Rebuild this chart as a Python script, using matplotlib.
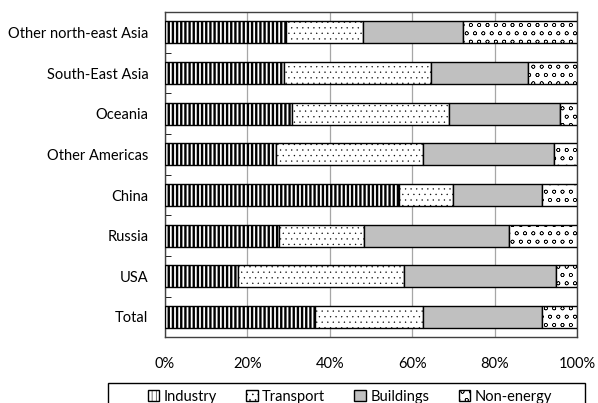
import numpy as np
import matplotlib
matplotlib.use('Agg')
from matplotlib import pyplot as plt
from matplotlib.patches import Rectangle

plt.rcParams['font.family'] = ['Lato', 'DejaVu Sans']

regions = ['Total', 'USA', 'Russia', 'China', 'Other Americas',
           'Oceania', 'South-East Asia', 'Other north-east Asia']

# shares in %
industry = [36.5, 17.6, 27.6, 56.9, 26.9, 30.7, 28.9, 29.4]
transport = [26.1, 40.5, 20.7, 13.1, 35.7, 38.1, 35.6, 18.6]
buildings = [28.8, 36.8, 35.1, 21.4, 31.9, 27.1, 23.6, 24.2]
non_energy = [8.6, 5.1, 16.6, 8.6, 5.5, 4.1, 11.9, 27.8]

# name, values, fill, hatch, hatch line width
series = [
    ('Industry', industry, 'white', '||||', 1.7),
    ('Transport', transport, 'white', '...', 0.2),
    ('Buildings', buildings, '#c0c0c0', '', 1.0),
    ('Non-energy', non_energy, 'white', 'oo', 0.4),
]

fig = plt.figure(figsize=(5.98, 4.03), dpi=100)
ax = fig.add_axes([0.276, 0.163, 0.689, 0.807])

y = np.arange(len(regions))
left = np.zeros(len(regions))
for name, vals, color, hatch, hlw in series:
    vals = np.array(vals)
    plt.rcParams['hatch.linewidth'] = hlw
    bars = ax.barh(y, vals, left=left, height=0.54, color=color, hatch=hatch,
                   edgecolor='black', linewidth=1.0, label=name, zorder=3)
    for b in bars:
        if hasattr(b, 'set_hatch_linewidth'):
            b.set_hatch_linewidth(hlw)
    left += vals

ax.set_xlim(0, 100)
ax.set_ylim(-0.5, len(regions) - 0.5)
ax.set_xticks([0, 20, 40, 60, 80, 100])
ax.set_xticklabels(['0%', '20%', '40%', '60%', '80%', '100%'])
ax.set_yticks(y)
ax.set_yticklabels(regions)
ax.set_yticks(np.arange(-0.5, len(regions), 1), minor=True)
ax.tick_params(axis='y', which='major', length=0, pad=12)
ax.tick_params(axis='y', which='minor', length=4, direction='in')
ax.tick_params(axis='x', length=0, pad=14)
ax.tick_params(labelsize=10.5)
ax.grid(axis='x', color='#a6a6a6', linewidth=0.9, zorder=0)
for s in ax.spines.values():
    s.set_color('#404040')
    s.set_linewidth(1.0)

# legend entries without frame, box drawn separately (runs off the bottom)
leg = fig.legend(loc='center', bbox_to_anchor=(0.585, 0.015), ncol=4,
                 fontsize=10.5, frameon=False,
                 handlelength=0.8, handleheight=0.8, handletextpad=0.3,
                 columnspacing=2.0, borderpad=0, borderaxespad=0)
fig.patches.append(Rectangle((0.181, -0.05), 0.797, 0.05 + 20 / 403,
                             transform=fig.transFigure, fill=False,
                             edgecolor='black', linewidth=1.0))

fig.savefig('out.png', dpi=100)
